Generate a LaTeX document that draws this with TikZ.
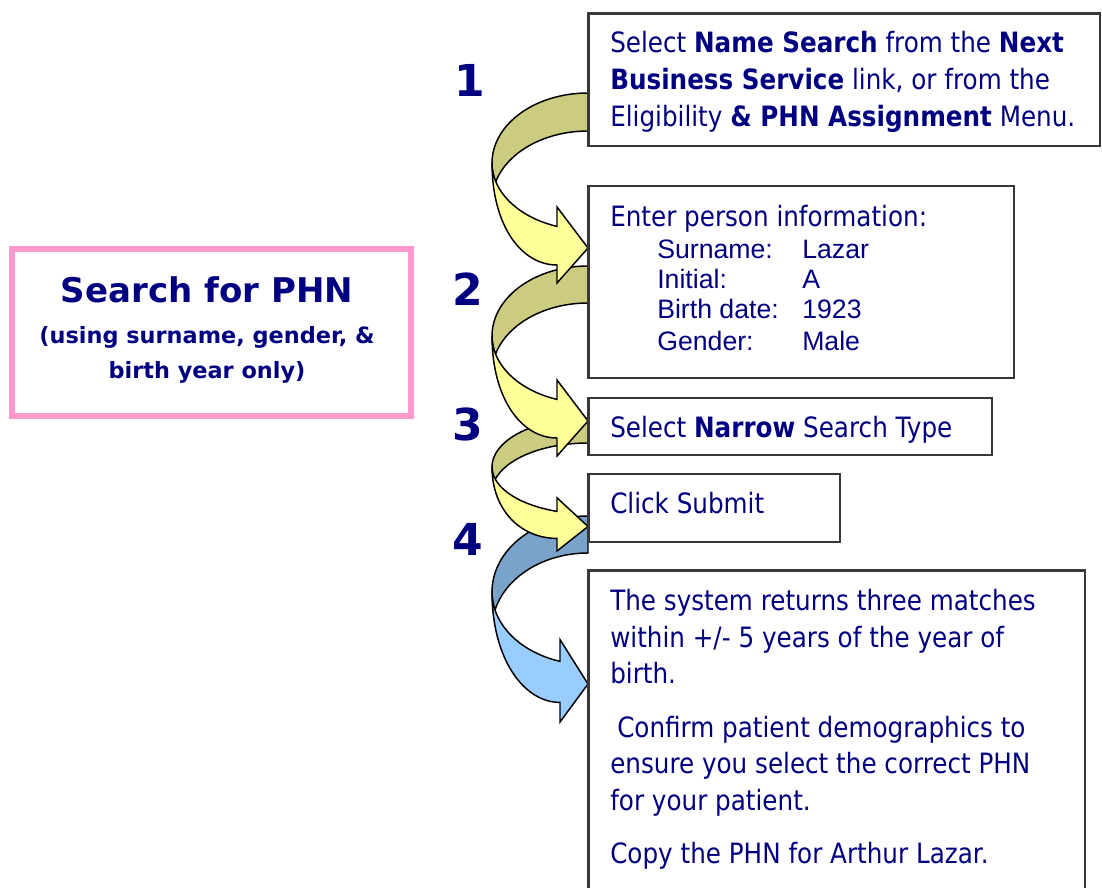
\documentclass[tikz,border=0pt]{standalone}
\usepackage{fontspec}
\setmainfont{DejaVu Sans}[FakeStretch=0.88]
\newfontfamily\widefont{DejaVu Sans}
\newfontfamily\arialfont{Liberation Sans}
\usetikzlibrary{fit}
\definecolor{navy}{HTML}{000080}
\definecolor{olivedark}{HTML}{CCCC80}
\definecolor{yellowlight}{HTML}{FFFF99}
\definecolor{bluedark}{HTML}{7AA3CC}
\definecolor{bluelight}{HTML}{99CCFF}
\definecolor{pinkframe}{HTML}{FF99CC}
\definecolor{boxborder}{HTML}{383838}

% #1 top y, #2 vertical scale, #3 band thickness, #4 head base x, #5 back colour, #6 front colour
\newcommand\uarrow[6]{%
  \pgfmathsetmacro\uaS{#2}%
  \pgfmathsetmacro\uaH{70*#2}%
  \pgfmathsetmacro\uaYc{#1+\uaH}%
  \pgfmathsetmacro\uaT{#3}%
  \pgfmathsetmacro\uaBeta{180-asin(#3/(138*#2))}%
  \pgfmathsetmacro\uaB{acos((#4-588)/96)}%
  \pgfmathsetmacro\uaLow{\uaYc+102*#2}%
  \pgfmathsetmacro\uaCa{\uaYc+62*#2}%
  \filldraw[arrowline, fill=#5]
    plot[domain=90:180,samples=40] ({588+96*cos(\x)},{\uaYc-\uaH*sin(\x)})
    -- plot[domain=180:\uaBeta,samples=12] ({588+96*cos(\x)},{\uaYc+68*\uaS*sin(\x)})
    -- plot[domain=\uaBeta:90,samples=40] ({588+96*cos(\x)},{\uaYc+\uaT-\uaH*sin(\x)})
    -- cycle;
  \filldraw[arrowline, fill=#6]
    (492,\uaYc) .. controls (492,\uaCa) and ({#4-36},{\uaLow}) .. (#4,\uaLow)
    -- (#4,{\uaYc+120*\uaS}) -- (588,{\uaYc+85*\uaS}) -- (#4,{\uaYc+44*\uaS})
    -- plot[domain=\uaB:180,samples=40] ({588+96*cos(\x)},{\uaYc+67*\uaS*sin(\x)})
    -- cycle;
}

\begin{document}
\begin{tikzpicture}[x=0.75pt,y=-0.75pt,
  arrowline/.style={draw=black, line width=1.1pt, line join=miter},
  stepbox/.style={draw=boxborder, line width=2.2pt, inner sep=0pt},
  txt/.style={anchor=base west, inner sep=0pt, text=navy, font=\fontsize{21}{25}\selectfont},
  tbl/.style={anchor=base west, inner sep=0pt, text=navy, font=\arialfont\fontsize{20}{24}\selectfont},
  num/.style={anchor=base, inner sep=0pt, text=navy, font=\widefont\bfseries\fontsize{33}{36}\selectfont},
  ttl/.style={anchor=base, inner sep=0pt, text=navy, font=\widefont\bfseries\fontsize{25.5}{28}\selectfont},
  sub/.style={anchor=base, inner sep=0pt, text=navy, font=\widefont\bfseries\fontsize{16.8}{20}\selectfont},
]
\clip (0,0) rectangle (1102,888);
\fill[white] (0,0) rectangle (1102,888);

% curved arrows (lowest first)
\uarrow{516}{1.084}{37}{560}{bluedark}{bluelight}
\uarrow{418}{0.7}{25}{557}{olivedark}{yellowlight}
\uarrow{266}{1}{37}{557}{olivedark}{yellowlight}
\uarrow{93}{1}{38}{557}{olivedark}{yellowlight}

% boxes
\node[stepbox, fit={(588.5,13.5) (1100,146)}] (b1) {};
\node[stepbox, fit={(588.5,186) (1014,378)}] (b2) {};
\node[stepbox, fit={(588.5,398) (992,455)}] (b3) {};
\node[stepbox, fit={(588.5,474) (840,542)}] (b4) {};
\node[stepbox, fit={(588.5,570.5) (1085,900)}] (b5) {};
\node[draw=pinkframe, line width=4.5pt, inner sep=0pt, fit={(12,249) (411,416)}] (title) {};

% title texts
\node[ttl] (tt1) at (207,302) {Search for PHN};
\node[sub] (tt2) at (207,343) {(using surname, gender, \&};
\node[sub] (tt3) at (207,378) {birth year only)};

% step numbers
\node[num] (n1) at (470,97) {1};
\node[num] (n2) at (468,305) {2};
\node[num] (n3) at (468,440) {3};
\node[num] (n4) at (468,555) {4};

% box 1
\node[txt] (l1a) at (610,53) {Select \textbf{Name Search} from the \textbf{Next}};
\node[txt] (l1b) at (610,90) {\textbf{Business Service} link, or from the};
\node[txt] (l1c) at (610,127) {Eligibility \textbf{\& PHN Assignment} Menu.};

% box 2
\node[txt] (l2a) at (610,226) {Enter person information:};
\node[tbl] (k1) at (657,258) {Surname:};
\node[tbl] (k2) at (657,288) {Initial:};
\node[tbl] (k3) at (657,318) {Birth date:};
\node[tbl] (k4) at (657,350) {Gender:};
\node[tbl] (v1) at (802,258) {Lazar};
\node[tbl] (v2) at (802,288) {A};
\node[tbl] (v3) at (802,318) {1923};
\node[tbl] (v4) at (802,350) {Male};

% box 3
\node[txt] (l3) at (610,437) {Select \textbf{Narrow} Search Type};

% box 4
\node[txt] (l4) at (610,513) {Click Submit};

% box 5
\node[txt] (l5a) at (610,610) {The system returns three matches};
\node[txt] (l5b) at (610,647) {within +/- 5 years of the year of};
\node[txt] (l5c) at (610,683) {birth.};
\node[txt] (l5d) at (617,737) {Confirm patient demographics to};
\node[txt] (l5e) at (610,773) {ensure you select the correct PHN};
\node[txt] (l5f) at (610,810) {for your patient.};
\node[txt] (l5g) at (610,863) {Copy the PHN for Arthur Lazar.};
\end{tikzpicture}
\end{document}
